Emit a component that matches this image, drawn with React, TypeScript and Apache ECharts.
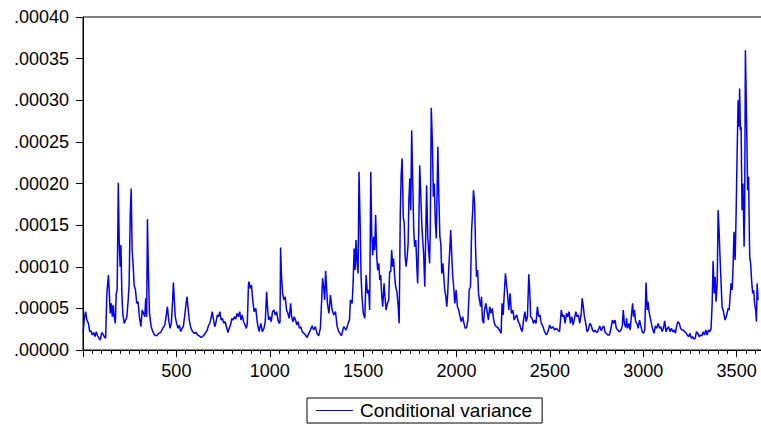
import React, { useEffect, useRef } from "react";
import * as echarts from "echarts";

const obs: number[] = [
  1, 7, 14, 21, 29, 36, 43, 50, 57, 64, 71, 78, 86, 93, 100, 107, 114, 121, 128, 136,
  141, 146, 151, 157, 162, 167, 173, 178, 183, 189, 194, 199, 203, 208, 213, 221, 228, 235, 242, 247,
  253, 258, 263, 269, 274, 281, 288, 295, 302, 310, 317, 324, 331, 336, 341, 345, 350, 356, 365, 374,
  384, 395, 405, 416, 427, 438, 445, 452, 459, 466, 473, 480, 484, 489, 494, 501, 509, 516, 523, 530,
  537, 544, 551, 557, 562, 569, 578, 587, 596, 605, 614, 622, 633, 644, 655, 665, 673, 680, 687, 692,
  699, 706, 711, 719, 726, 733, 740, 747, 754, 761, 768, 776, 783, 790, 797, 804, 811, 818, 825, 832,
  839, 846, 853, 860, 868, 875, 880, 886, 889, 895, 902, 909, 916, 925, 934, 943, 952, 960, 969, 976,
  983, 989, 994, 1001, 1008, 1015, 1022, 1030, 1037, 1044, 1051, 1055, 1058, 1063, 1069, 1076, 1083, 1090, 1097, 1104,
  1112, 1117, 1124, 1131, 1138, 1145, 1152, 1159, 1166, 1174, 1183, 1191, 1200, 1209, 1218, 1227, 1235, 1244, 1253, 1262,
  1271, 1278, 1283, 1289, 1294, 1299, 1304, 1309, 1317, 1325, 1334, 1343, 1352, 1361, 1370, 1384, 1396, 1409, 1420, 1427,
  1432, 1441, 1446, 1452, 1457, 1462, 1468, 1473, 1478, 1484, 1489, 1494, 1501, 1509, 1516, 1523, 1530, 1535, 1541, 1546,
  1551, 1557, 1562, 1567, 1573, 1578, 1584, 1589, 1594, 1600, 1605, 1612, 1617, 1623, 1630, 1637, 1642, 1648, 1653, 1658,
  1663, 1669, 1674, 1681, 1688, 1693, 1699, 1704, 1709, 1715, 1720, 1725, 1730, 1736, 1741, 1745, 1750, 1755, 1760, 1766,
  1771, 1776, 1782, 1787, 1792, 1798, 1803, 1808, 1814, 1819, 1824, 1830, 1835, 1840, 1846, 1851, 1856, 1860, 1865, 1871,
  1876, 1881, 1887, 1892, 1900, 1906, 1911, 1916, 1921, 1927, 1932, 1937, 1943, 1948, 1953, 1959, 1964, 1969, 1975, 1980,
  1985, 1991, 1998, 2005, 2012, 2019, 2026, 2033, 2040, 2047, 2054, 2061, 2068, 2075, 2081, 2086, 2091, 2097, 2102, 2107,
  2113, 2118, 2123, 2129, 2134, 2139, 2145, 2150, 2157, 2164, 2171, 2178, 2185, 2192, 2199, 2206, 2214, 2221, 2230, 2239,
  2244, 2250, 2255, 2262, 2267, 2273, 2280, 2287, 2294, 2302, 2309, 2316, 2323, 2330, 2337, 2344, 2352, 2359, 2366, 2373,
  2380, 2387, 2392, 2397, 2405, 2412, 2419, 2426, 2433, 2440, 2447, 2454, 2463, 2472, 2481, 2490, 2499, 2507, 2516, 2525,
  2534, 2543, 2552, 2561, 2568, 2575, 2582, 2589, 2596, 2603, 2610, 2617, 2624, 2632, 2639, 2646, 2653, 2660, 2668, 2673,
  2678, 2685, 2692, 2699, 2706, 2714, 2721, 2728, 2735, 2742, 2749, 2756, 2767, 2775, 2782, 2789, 2796, 2803, 2810, 2819,
  2828, 2835, 2842, 2849, 2856, 2863, 2872, 2881, 2888, 2893, 2899, 2906, 2911, 2916, 2923, 2930, 2937, 2943, 2948, 2953,
  2959, 2966, 2973, 2980, 2987, 2994, 3001, 3008, 3015, 3021, 3026, 3031, 3040, 3049, 3058, 3065, 3072, 3080, 3087, 3094,
  3101, 3108, 3115, 3122, 3129, 3136, 3143, 3151, 3158, 3165, 3172, 3179, 3186, 3193, 3200, 3207, 3214, 3221, 3228, 3236,
  3243, 3250, 3257, 3264, 3271, 3278, 3285, 3292, 3300, 3307, 3314, 3321, 3328, 3335, 3342, 3349, 3356, 3363, 3369, 3374,
  3380, 3385, 3390, 3396, 3401, 3406, 3412, 3417, 3422, 3428, 3433, 3438, 3444, 3449, 3454, 3460, 3465, 3470, 3476, 3481,
  3486, 3492, 3497, 3502, 3508, 3513, 3516, 3520, 3524, 3529, 3534, 3540, 3543, 3547, 3553, 3559, 3564, 3570, 3575, 3580,
  3586, 3591, 3596, 3602, 3606, 3610, 3615,
];

const variance: number[] = [
  2.1e-5, 3.8e-5, 4.6e-5, 3.6e-5, 3.2e-5, 2.2e-5, 2.3e-5, 1.8e-5, 2.1e-5, 1.6e-5, 2.2e-5, 1.7e-5, 1.4e-5, 1.2e-5, 2.1e-5, 1.9e-5, 1.6e-5, 1.4e-5, 6.8e-5, 9.0e-5,
  6.8e-5, 4.4e-5, 5.6e-5, 4.0e-5, 5.4e-5, 4.0e-5, 3.2e-5, 6.8e-5, 7.2e-5, 20.1e-5, 12.8e-5, 10.0e-5, 12.6e-5, 6.8e-5, 4.4e-5, 3.2e-5, 3.6e-5, 4.0e-5, 6.0e-5, 7.9e-5,
  16.4e-5, 19.4e-5, 12.0e-5, 10.0e-5, 7.8e-5, 7.2e-5, 5.6e-5, 5.8e-5, 4.0e-5, 2.8e-5, 4.8e-5, 4.4e-5, 4.0e-5, 6.2e-5, 4.0e-5, 15.7e-5, 9.6e-5, 4.4e-5, 2.8e-5, 2.2e-5,
  1.8e-5, 1.7e-5, 2.0e-5, 2.1e-5, 2.6e-5, 3.0e-5, 4.0e-5, 5.2e-5, 3.6e-5, 2.6e-5, 3.2e-5, 6.0e-5, 8.1e-5, 6.0e-5, 4.0e-5, 3.2e-5, 2.6e-5, 3.0e-5, 2.2e-5, 2.6e-5,
  2.8e-5, 4.0e-5, 5.4e-5, 6.4e-5, 5.2e-5, 3.6e-5, 2.6e-5, 2.2e-5, 2.0e-5, 2.1e-5, 1.8e-5, 1.7e-5, 1.5e-5, 1.7e-5, 2.0e-5, 2.4e-5, 3.0e-5, 3.3e-5, 4.0e-5, 4.6e-5,
  3.6e-5, 2.8e-5, 3.2e-5, 4.2e-5, 4.0e-5, 4.6e-5, 3.6e-5, 3.8e-5, 3.2e-5, 3.4e-5, 2.8e-5, 2.1e-5, 2.6e-5, 3.0e-5, 3.8e-5, 3.6e-5, 4.0e-5, 3.7e-5, 4.4e-5, 4.0e-5,
  4.6e-5, 3.6e-5, 4.2e-5, 3.4e-5, 3.0e-5, 2.6e-5, 3.2e-5, 7.9e-5, 8.2e-5, 7.4e-5, 7.8e-5, 6.0e-5, 4.6e-5, 5.0e-5, 3.2e-5, 2.2e-5, 3.2e-5, 2.2e-5, 2.6e-5, 3.4e-5,
  7.0e-5, 4.8e-5, 3.6e-5, 4.0e-5, 3.4e-5, 4.6e-5, 4.8e-5, 4.2e-5, 4.6e-5, 3.6e-5, 3.2e-5, 3.4e-5, 12.3e-5, 8.8e-5, 6.8e-5, 6.0e-5, 6.4e-5, 4.8e-5, 4.4e-5, 3.8e-5,
  5.6e-5, 4.0e-5, 3.4e-5, 4.0e-5, 3.6e-5, 3.0e-5, 3.4e-5, 2.6e-5, 2.8e-5, 2.2e-5, 2.0e-5, 1.8e-5, 1.5e-5, 2.0e-5, 2.4e-5, 2.9e-5, 2.4e-5, 2.8e-5, 2.0e-5, 1.7e-5,
  2.6e-5, 6.0e-5, 8.6e-5, 7.4e-5, 6.0e-5, 9.5e-5, 7.6e-5, 5.6e-5, 4.4e-5, 6.6e-5, 4.8e-5, 4.2e-5, 4.6e-5, 2.8e-5, 2.2e-5, 1.7e-5, 2.8e-5, 2.4e-5, 3.2e-5, 3.6e-5,
  6.0e-5, 5.6e-5, 7.8e-5, 12.2e-5, 9.6e-5, 13.2e-5, 10.4e-5, 9.2e-5, 21.4e-5, 15.2e-5, 8.8e-5, 6.4e-5, 4.4e-5, 3.8e-5, 9.0e-5, 6.8e-5, 7.2e-5, 4.8e-5, 21.4e-5, 14.0e-5,
  11.4e-5, 13.6e-5, 12.0e-5, 16.2e-5, 11.2e-5, 9.6e-5, 10.4e-5, 8.4e-5, 9.0e-5, 6.4e-5, 5.2e-5, 8.0e-5, 6.4e-5, 4.8e-5, 5.6e-5, 6.0e-5, 9.4e-5, 9.4e-5, 12.0e-5, 10.0e-5,
  11.0e-5, 8.8e-5, 7.6e-5, 7.0e-5, 5.2e-5, 3.2e-5, 16.4e-5, 21.2e-5, 23.0e-5, 16.0e-5, 15.2e-5, 11.2e-5, 10.0e-5, 11.2e-5, 12.8e-5, 18.0e-5, 20.6e-5, 16.8e-5, 26.4e-5, 19.8e-5,
  14.4e-5, 12.4e-5, 13.2e-5, 10.4e-5, 8.0e-5, 14.4e-5, 22.2e-5, 19.2e-5, 15.2e-5, 13.2e-5, 11.6e-5, 7.6e-5, 13.6e-5, 19.8e-5, 13.6e-5, 12.0e-5, 10.4e-5, 15.2e-5, 29.1e-5, 24.8e-5,
  18.4e-5, 20.0e-5, 15.2e-5, 13.4e-5, 24.4e-5, 18.0e-5, 13.6e-5, 12.8e-5, 9.2e-5, 10.4e-5, 8.8e-5, 7.2e-5, 6.4e-5, 5.2e-5, 6.8e-5, 10.0e-5, 12.0e-5, 14.4e-5, 11.2e-5, 8.8e-5,
  7.6e-5, 5.6e-5, 7.2e-5, 5.2e-5, 4.8e-5, 4.0e-5, 3.4e-5, 4.0e-5, 3.2e-5, 2.6e-5, 2.7e-5, 3.6e-5, 7.2e-5, 7.6e-5, 14.4e-5, 16.4e-5, 19.2e-5, 17.6e-5, 12.4e-5, 8.8e-5,
  9.6e-5, 6.8e-5, 6.0e-5, 5.2e-5, 6.4e-5, 3.6e-5, 3.2e-5, 4.8e-5, 5.6e-5, 4.6e-5, 3.6e-5, 5.2e-5, 4.4e-5, 5.0e-5, 3.6e-5, 3.0e-5, 2.8e-5, 2.7e-5, 2.4e-5, 2.0e-5,
  5.6e-5, 4.2e-5, 6.4e-5, 9.2e-5, 8.0e-5, 6.8e-5, 4.8e-5, 6.8e-5, 4.4e-5, 4.8e-5, 3.6e-5, 4.0e-5, 4.2e-5, 3.4e-5, 3.2e-5, 2.6e-5, 2.2e-5, 3.6e-5, 4.6e-5, 3.4e-5,
  4.0e-5, 9.1e-5, 7.2e-5, 4.0e-5, 3.8e-5, 3.2e-5, 3.6e-5, 3.2e-5, 5.2e-5, 4.0e-5, 4.2e-5, 3.2e-5, 2.8e-5, 2.2e-5, 1.8e-5, 2.2e-5, 3.0e-5, 2.6e-5, 2.8e-5, 2.4e-5,
  2.6e-5, 2.4e-5, 2.2e-5, 4.8e-5, 4.0e-5, 4.2e-5, 3.2e-5, 4.4e-5, 4.0e-5, 4.6e-5, 3.2e-5, 4.0e-5, 3.0e-5, 3.8e-5, 4.6e-5, 4.0e-5, 4.2e-5, 3.2e-5, 4.4e-5, 6.2e-5,
  5.4e-5, 4.0e-5, 3.2e-5, 2.2e-5, 2.4e-5, 3.2e-5, 3.0e-5, 2.4e-5, 2.2e-5, 2.4e-5, 2.1e-5, 2.2e-5, 2.9e-5, 2.3e-5, 2.7e-5, 2.9e-5, 2.1e-5, 2.0e-5, 1.8e-5, 1.8e-5,
  2.7e-5, 3.6e-5, 3.2e-5, 3.6e-5, 2.6e-5, 2.4e-5, 2.2e-5, 2.4e-5, 2.9e-5, 4.8e-5, 3.2e-5, 2.7e-5, 3.8e-5, 2.6e-5, 3.2e-5, 2.4e-5, 4.2e-5, 5.6e-5, 4.0e-5, 4.8e-5,
  3.4e-5, 3.2e-5, 2.6e-5, 3.6e-5, 2.9e-5, 2.2e-5, 2.0e-5, 2.4e-5, 8.1e-5, 4.8e-5, 5.8e-5, 4.6e-5, 3.6e-5, 2.6e-5, 2.0e-5, 2.9e-5, 2.6e-5, 3.2e-5, 2.6e-5, 2.8e-5,
  2.2e-5, 2.6e-5, 3.5e-5, 2.2e-5, 2.6e-5, 2.8e-5, 2.2e-5, 2.6e-5, 2.2e-5, 2.4e-5, 2.0e-5, 2.9e-5, 3.4e-5, 3.2e-5, 2.6e-5, 2.4e-5, 2.4e-5, 2.2e-5, 2.1e-5, 1.8e-5,
  1.6e-5, 2.0e-5, 1.4e-5, 1.6e-5, 1.3e-5, 1.4e-5, 2.2e-5, 2.0e-5, 1.6e-5, 1.8e-5, 1.7e-5, 2.2e-5, 1.8e-5, 2.4e-5, 1.8e-5, 2.4e-5, 2.2e-5, 2.5e-5, 5.6e-5, 10.7e-5,
  6.8e-5, 8.8e-5, 5.8e-5, 8.0e-5, 16.8e-5, 14.4e-5, 10.6e-5, 8.0e-5, 5.2e-5, 4.8e-5, 4.2e-5, 3.6e-5, 4.0e-5, 4.4e-5, 5.0e-5, 4.8e-5, 6.4e-5, 8.0e-5, 7.2e-5, 10.0e-5,
  14.2e-5, 10.8e-5, 16.0e-5, 22.8e-5, 30.0e-5, 26.8e-5, 31.4e-5, 26.4e-5, 26.8e-5, 16.8e-5, 20.0e-5, 12.4e-5, 16.4e-5, 36.0e-5, 28.0e-5, 19.2e-5, 20.8e-5, 11.2e-5, 10.4e-5, 8.4e-5,
  6.8e-5, 7.2e-5, 5.6e-5, 4.8e-5, 3.4e-5, 8.0e-5, 6.0e-5,
];

const yTicks: string[] = [".00000", ".00005", ".00010", ".00015", ".00020", ".00025", ".00030", ".00035", ".00040"];
const xTickLabels: number[] = [500, 1000, 1500, 2000, 2500, 3000, 3500];
const seriesName = "Conditional variance";

export default function App() {
  const ref = useRef<HTMLDivElement>(null);
  useEffect(() => {
    if (!ref.current) return;
    const chart = echarts.init(ref.current, undefined, { renderer: "svg" });
    const data = obs.map((o, i) => [o, variance[i]]);
    const font = "'Liberation Sans', Arial, Helvetica, sans-serif";
    chart.setOption({
      animation: false,
      backgroundColor: "#ffffff",
      grid: {
        left: 83,
        right: 0,
        top: 17,
        bottom: 75,
        show: true,
        borderColor: "#000",
        borderWidth: 1,
        containLabel: false,
      },
      legend: {
        data: [seriesName],
        left: 307,
        top: 398,
        orient: "horizontal",
        padding: [3, 10, 3, 9],
        borderColor: "#000",
        borderWidth: 1,
        borderRadius: 0,
        icon: "rect",
        itemWidth: 37,
        itemHeight: 1.2,
        textStyle: { color: "#000", fontSize: 19, fontFamily: font, padding: [0, 0, 0, 2] },
      },
      xAxis: {
        type: "value",
        min: 0,
        max: 4000,
        interval: 500,
        axisLine: { show: true, lineStyle: { color: "#000", width: 1 } },
        axisTick: { show: true, length: 7, lineStyle: { color: "#000" } },
        minorTick: { show: true, splitNumber: 10, length: 4, lineStyle: { color: "#000" } },
        splitLine: { show: false },
        axisLabel: {
          color: "#000",
          fontSize: 18,
          fontFamily: font,
          margin: 12,
          formatter: (v: number) => (xTickLabels.includes(v) ? String(v) : ""),
        },
      },
      yAxis: {
        type: "value",
        min: 0,
        max: 0.0004,
        interval: 0.00005,
        axisLine: { show: true, lineStyle: { color: "#000", width: 1 } },
        axisTick: { show: true, length: 7, lineStyle: { color: "#000" } },
        splitLine: { show: false },
        axisLabel: {
          color: "#000",
          fontSize: 18,
          fontFamily: font,
          margin: 14,
          formatter: (v: number) => {
            const idx = Math.round(v / 0.00005);
            return yTicks[idx] ?? "";
          },
        },
      },
      series: [
        {
          name: seriesName,
          type: "line",
          data,
          symbol: "none",
          showSymbol: false,
          lineStyle: { color: "#0000ff", width: 1.5 },
          itemStyle: { color: "#0000ff" },
          silent: true,
        },
      ],
    });
    return () => chart.dispose();
  }, []);

  return (
    <div style={{ position: "fixed", left: 0, top: 0, width: 761, height: 425, overflow: "hidden", background: "#fff" }}>
      <div ref={ref} style={{ width: 833, height: 425 }} />
    </div>
  );
}
